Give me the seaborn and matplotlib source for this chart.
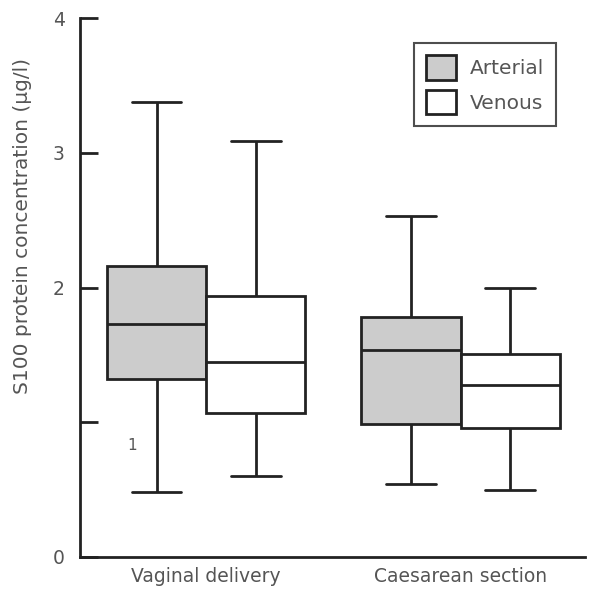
import numpy as np
import pandas as pd
import matplotlib
matplotlib.use("Agg")
import matplotlib.pyplot as plt
import seaborn as sns
from matplotlib.patches import Patch

# five-number summaries: min, Q1, median, Q3, max
groups = ["Vaginal delivery", "Caesarean section"]
samples = ["Arterial", "Venous"]
vaginal_arterial = [0.48, 1.32, 1.73, 2.16, 3.38]
vaginal_venous = [0.60, 1.07, 1.45, 1.94, 3.09]
caesarean_arterial = [0.54, 0.99, 1.54, 1.78, 2.53]
caesarean_venous = [0.50, 0.96, 1.28, 1.51, 2.00]

rows = []
for g, s, vals in [(groups[0], samples[0], vaginal_arterial),
                   (groups[0], samples[1], vaginal_venous),
                   (groups[1], samples[0], caesarean_arterial),
                   (groups[1], samples[1], caesarean_venous)]:
    for v in vals:
        rows.append({"group": g, "sample": s, "value": v})
df = pd.DataFrame(rows)

sns.set_style("white")
plt.rcParams["font.family"] = ["DejaVu Sans"]
txt = "#555555"

fig = plt.figure(figsize=(5.95, 5.94), dpi=100)
ax = fig.add_axes([0.1345, 0.0623, 0.849, 0.907])

sns.boxplot(data=df, x="group", y="value", hue="sample", order=groups,
            hue_order=samples, palette={"Arterial": "#cccccc", "Venous": "white"},
            whis=(0, 100), width=0.78, gap=0, linewidth=2, linecolor="#222222",
            showfliers=False, legend=False, ax=ax)

ax.set_xlim(-0.496, 1.49)
ax.set_ylim(0, 4)
ax.set_yticks([0, 1, 2, 3, 4])
ax.set_yticklabels(["0", "", "2", "3", "4"])
ax.text(-0.29, 0.83, "1", fontsize=11, color=txt, ha="center", va="center")
ax.tick_params(axis="y", left=True, direction="in", length=13, width=2,
               color="#222222", labelsize=13.5, labelcolor=txt, pad=11)
ax.tick_params(axis="x", bottom=False, length=0, labelsize=13.5, labelcolor=txt, pad=7)
ax.set_xlabel("")
ax.set_ylabel("S100 protein concentration (μg/l)", fontsize=14.5, color=txt)
ax.yaxis.set_label_coords(-0.095, 0.615)

for side in ["top", "right"]:
    ax.spines[side].set_visible(False)
for side in ["left", "bottom"]:
    ax.spines[side].set_linewidth(2)
    ax.spines[side].set_color("#222222")

handles = [Patch(facecolor="#cccccc", edgecolor="#222222", linewidth=2, label="Arterial"),
           Patch(facecolor="white", edgecolor="#222222", linewidth=2, label="Venous")]
leg = ax.legend(handles=handles, loc="upper right", bbox_to_anchor=(0.943, 0.954),
                borderaxespad=0, fontsize=14.5, frameon=True, fancybox=False,
                handlelength=1.5, handleheight=1.5, borderpad=0.6,
                labelspacing=0.5, handletextpad=0.7)
leg.get_frame().set_edgecolor("#222222")
leg.get_frame().set_linewidth(1.5)
for t in leg.get_texts():
    t.set_color(txt)

fig.savefig("out.png", dpi=100)
